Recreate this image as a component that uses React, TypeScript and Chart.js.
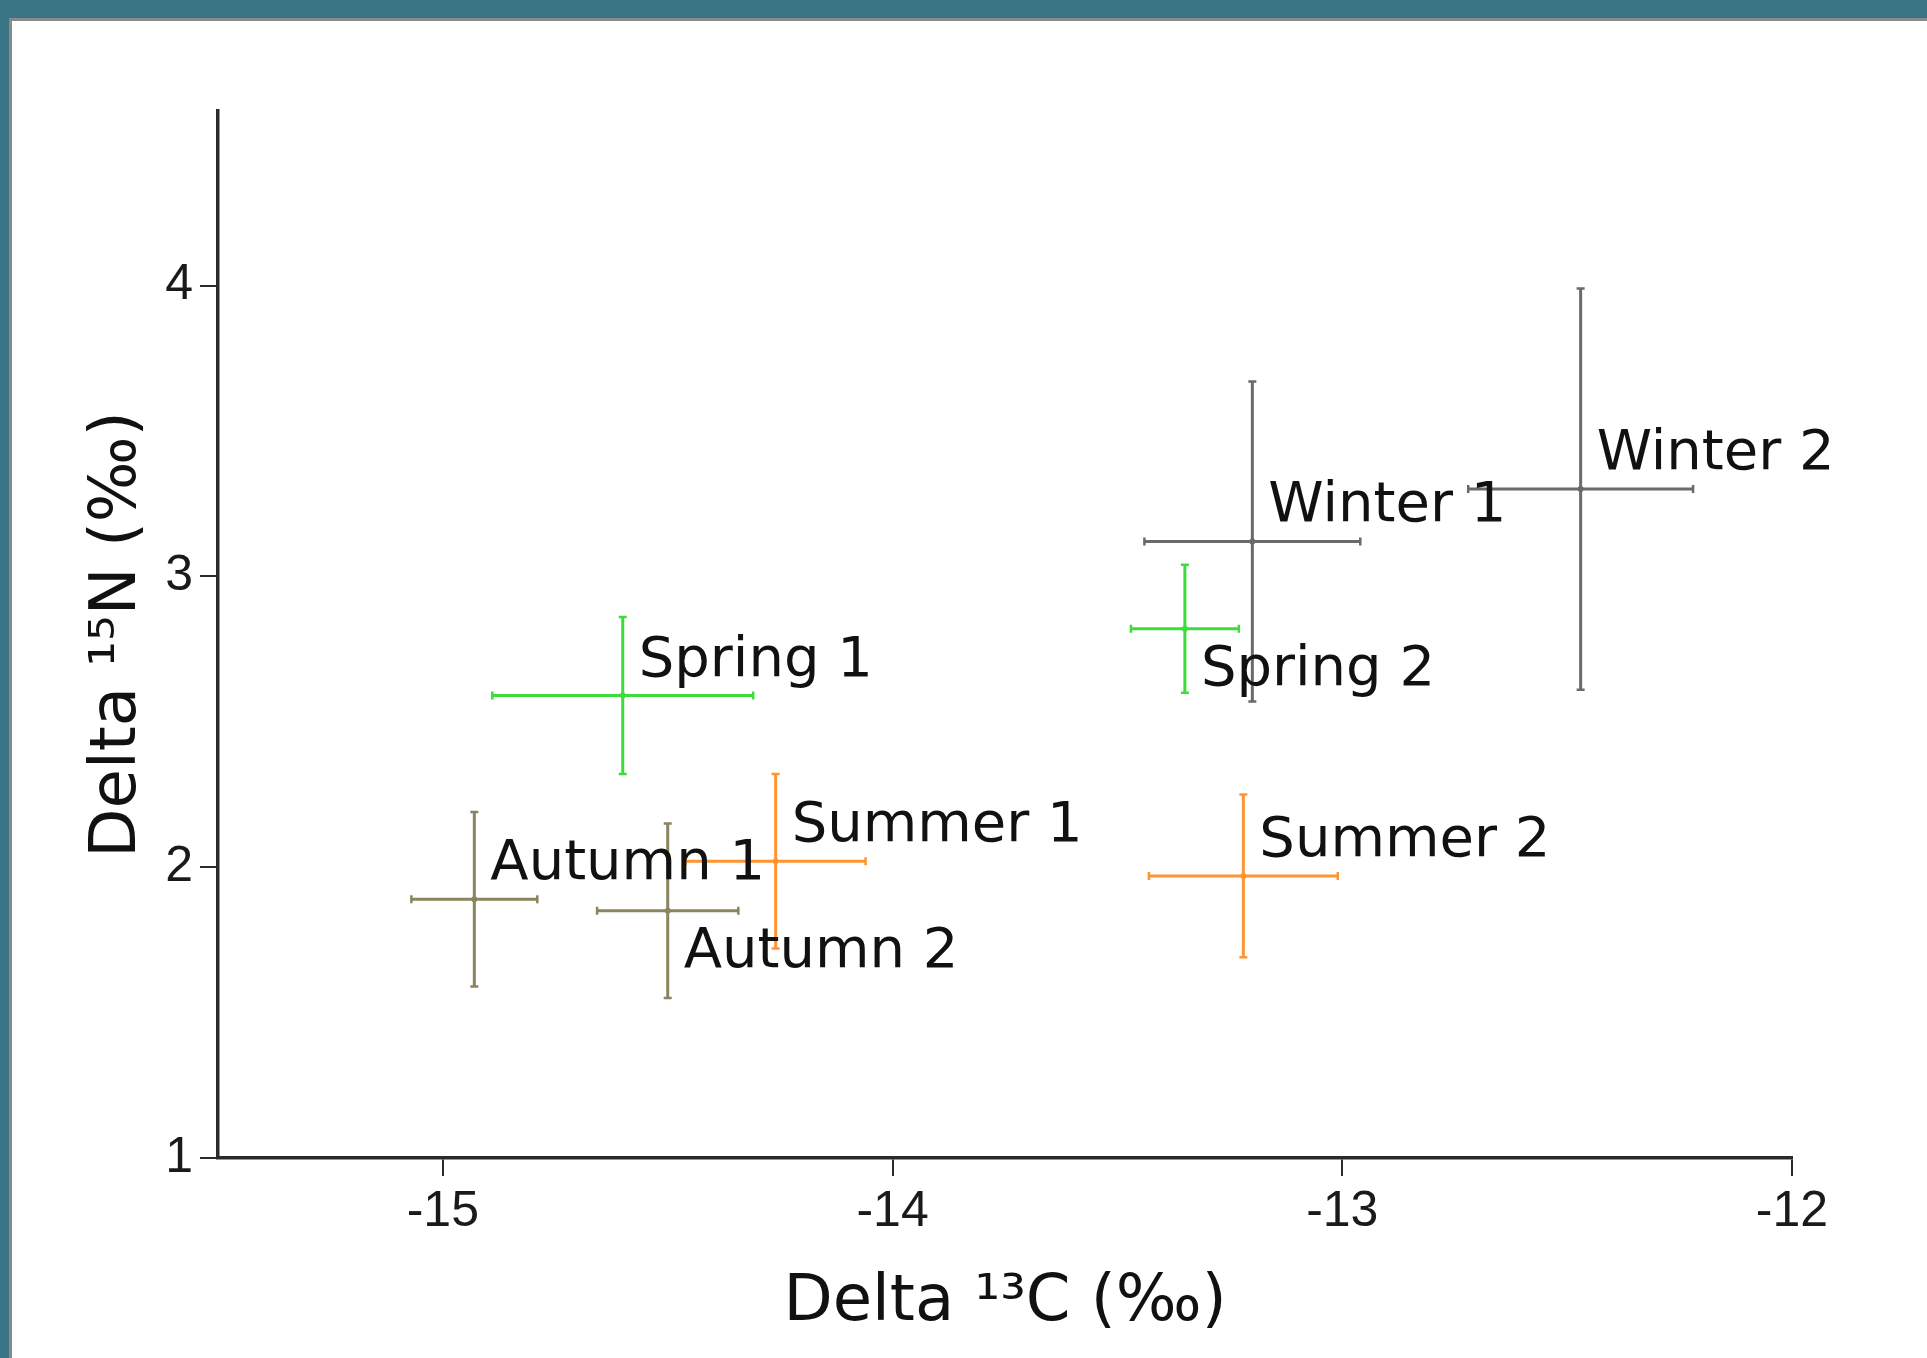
import React, { useEffect, useRef } from "react";
import { Chart, registerables } from "chart.js";

Chart.register(...registerables);

// ---- data ----
const pointLabels = ["Spring 1", "Spring 2", "Summer 1", "Summer 2", "Autumn 1", "Autumn 2", "Winter 1", "Winter 2"];
const seasonIndex = [0, 0, 1, 1, 2, 2, 3, 3];
const delta13C = [-14.6, -13.35, -14.26, -13.22, -14.93, -14.5, -13.2, -12.47];
const delta15N = [2.59, 2.82, 2.02, 1.97, 1.89, 1.85, 3.12, 3.3];
const delta13CErr = [0.29, 0.12, 0.2, 0.21, 0.14, 0.157, 0.24, 0.25];
const delta15NErr = [0.27, 0.22, 0.3, 0.28, 0.3, 0.3, 0.55, 0.69];
const xTickValues = [-15, -14, -13, -12];
const yTickValues = [1, 2, 3, 4];
const labelBelow = [false, true, false, false, false, true, false, false];

// ---- styles ----
const seasonColors = ["#3ddc3d", "#ff9432", "#8a855f", "#6a6a6a"];
const LABEL_FONT = "56px 'DejaVu Sans', Verdana, sans-serif";

const errorBarPlugin = {
  id: "errorBars",
  beforeDatasetsDraw(chart: any) {
    const { ctx, scales } = chart;
    const xs = scales.x;
    const ys = scales.y;
    ctx.save();
    ctx.lineCap = "butt";
    const cap = 4;
    for (let i = 0; i < delta13C.length; i++) {
      const col = seasonColors[seasonIndex[i]];
      ctx.strokeStyle = col;
      const px = xs.getPixelForValue(delta13C[i]);
      const py = ys.getPixelForValue(delta15N[i]);
      const xl = xs.getPixelForValue(delta13C[i] - delta13CErr[i]);
      const xr = xs.getPixelForValue(delta13C[i] + delta13CErr[i]);
      const yt = ys.getPixelForValue(delta15N[i] + delta15NErr[i]);
      const yb = ys.getPixelForValue(delta15N[i] - delta15NErr[i]);
      ctx.lineWidth = 3;
      ctx.beginPath();
      ctx.moveTo(xl, py);
      ctx.lineTo(xr, py);
      ctx.moveTo(px, yt);
      ctx.lineTo(px, yb);
      ctx.stroke();
      ctx.lineWidth = 2.5;
      ctx.beginPath();
      ctx.moveTo(xl, py - cap);
      ctx.lineTo(xl, py + cap);
      ctx.moveTo(xr, py - cap);
      ctx.lineTo(xr, py + cap);
      ctx.moveTo(px - cap, yt);
      ctx.lineTo(px + cap, yt);
      ctx.moveTo(px - cap, yb);
      ctx.lineTo(px + cap, yb);
      ctx.stroke();
    }
    ctx.restore();
  },
  afterDatasetsDraw(chart: any) {
    const { ctx, scales } = chart;
    const xs = scales.x;
    const ys = scales.y;
    ctx.save();
    ctx.font = LABEL_FONT;
    ctx.fillStyle = "#111111";
    ctx.textAlign = "left";
    ctx.textBaseline = "alphabetic";
    for (let i = 0; i < pointLabels.length; i++) {
      const px = xs.getPixelForValue(delta13C[i]);
      const py = ys.getPixelForValue(delta15N[i]);
      const ty = labelBelow[i] ? py + 56 : py - 20;
      ctx.fillText(pointLabels[i], px + 16, ty);
    }
    ctx.restore();
  },
};

export default function App() {
  const canvasRef = useRef<HTMLCanvasElement | null>(null);

  useEffect(() => {
    const canvas = canvasRef.current;
    if (!canvas) return;
    const points = delta13C.map((x, i) => ({ x, y: delta15N[i] }));
    const chart = new Chart(canvas, {
      type: "scatter",
      data: {
        datasets: [
          {
            label: "Isotopes",
            data: points,
            pointRadius: 3,
            pointBorderWidth: 0,
            pointBackgroundColor: seasonIndex.map((s) => seasonColors[s]),
          },
        ],
      },
      options: {
        responsive: false,
        animation: false,
        devicePixelRatio: 1,
        layout: { padding: { top: 111, right: 135, left: 0, bottom: 0 } },
        plugins: {
          legend: { display: false },
          tooltip: { enabled: false },
        },
        scales: {
          x: {
            type: "linear",
            position: "bottom",
            min: -15.5,
            max: -12,
            afterFit: (s: any) => {
              s.height = 200;
            },
            afterBuildTicks: (s: any) => {
              s.ticks = xTickValues.map((v) => ({ value: v }));
            },
            ticks: {
              font: { family: "'Liberation Sans', Arial, sans-serif", size: 50 },
              color: "#1a1a1a",
              padding: 6,
              maxRotation: 0,
              autoSkip: false,
            },
            grid: {
              drawOnChartArea: false,
              drawTicks: true,
              tickLength: 18,
              lineWidth: 2,
              color: "#2a2a2a",
            },
            border: { display: true, color: "#2a2a2a", width: 3.5 },
            title: {
              display: true,
              text: "Delta ¹³C (‰)",
              font: { family: "'DejaVu Sans', Verdana, sans-serif", size: 64 },
              color: "#111111",
              padding: { top: 0, bottom: 16 },
            },
          },
          y: {
            type: "linear",
            min: 1,
            max: 4.6,
            afterFit: (s: any) => {
              s.width = 218;
            },
            afterBuildTicks: (s: any) => {
              s.ticks = yTickValues.map((v) => ({ value: v }));
            },
            ticks: {
              font: { family: "'Liberation Sans', Arial, sans-serif", size: 50 },
              color: "#1a1a1a",
              padding: 7,
              autoSkip: false,
            },
            grid: {
              drawOnChartArea: false,
              drawTicks: true,
              tickLength: 18,
              lineWidth: 2,
              color: "#2a2a2a",
            },
            border: { display: true, color: "#2a2a2a", width: 3.5 },
            title: {
              display: true,
              text: "Delta ¹⁵N (‰)",
              font: { family: "'DejaVu Sans', Verdana, sans-serif", size: 64 },
              color: "#111111",
              padding: { top: 80, bottom: 0 },
            },
          },
        },
      },
      plugins: [errorBarPlugin],
    } as any);
    return () => chart.destroy();
  }, []);

  return (
    <div
      style={{
        position: "fixed",
        left: 0,
        top: 0,
        width: 1927,
        height: 1358,
        background: "#3a7585",
        overflow: "hidden",
      }}
    >
      <div
        style={{
          position: "absolute",
          left: 9,
          top: 18,
          right: 0,
          bottom: 0,
          background: "#ffffff",
          borderLeft: "3px solid #8a8a8a",
          borderTop: "3px solid #8a8a8a",
        }}
      />
      <canvas
        ref={canvasRef}
        width={1927}
        height={1358}
        style={{ position: "absolute", left: 0, top: 0, width: 1927, height: 1358 }}
      />
    </div>
  );
}
